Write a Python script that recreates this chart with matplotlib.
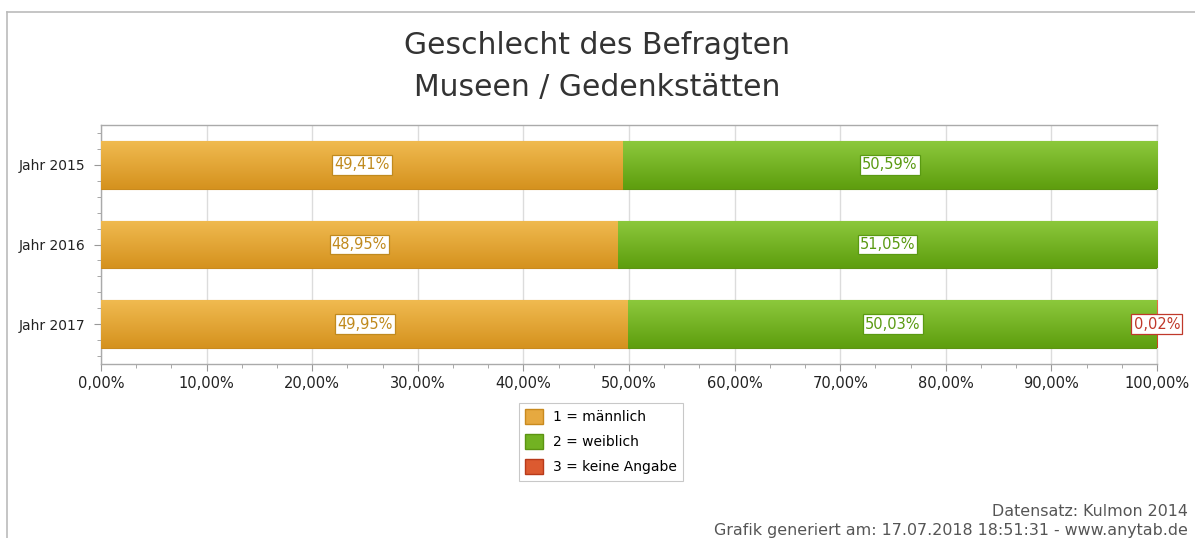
import matplotlib
matplotlib.use("Agg")
import matplotlib.pyplot as plt
import numpy as np
from matplotlib.colors import LinearSegmentedColormap
from matplotlib.lines import Line2D
from matplotlib.patches import Patch

# ---- data ----
categories = ["Jahr 2015", "Jahr 2016", "Jahr 2017"]
series_names = ["1 = männlich", "2 = weiblich", "3 = keine Angabe"]
maennlich = [49.41, 48.95, 49.95]
weiblich = [50.59, 51.05, 50.03]
keine_angabe = [0.0, 0.0, 0.02]
x_ticks = [0, 10, 20, 30, 40, 50, 60, 70, 80, 90, 100]
title_text = "Geschlecht des Befragten\nMuseen / Gedenkstätten"
footer1 = "Datensatz: Kulmon 2014"
footer2 = "Grafik generiert am: 17.07.2018 18:51:31 - www.anytab.de"

series = [maennlich, weiblich, keine_angabe]
top_cols = ["#F0BA50", "#8CC83C", "#EA7048"]
bot_cols = ["#D5921E", "#5E9E0E", "#C8401C"]
edge_cols = ["#C98A1E", "#5C9412", "#B83A1A"]
text_cols = ["#C08A1E", "#5A9A12", "#C0392B"]
leg_cols = ["#E6A940", "#72B222", "#DC5A30"]

plt.rcParams['font.family'] = ['DejaVu Sans']

fig = plt.figure(figsize=(11.95, 5.38), dpi=100)
ax = fig.add_axes([101/1195, 1-364/538, 1056/1195, 239/538])

y = np.arange(len(categories))
left = np.zeros(len(categories))
for si, vals in enumerate(series):
    vals = np.array(vals)
    bars = ax.barh(y, vals, left=left, height=0.6, color=bot_cols[si],
                   edgecolor=edge_cols[si], linewidth=0.8, zorder=3)
    cmap = LinearSegmentedColormap.from_list("g%d" % si, [top_cols[si], bot_cols[si]])
    for b, v in zip(bars, vals):
        if v <= 0:
            continue
        x0, y0 = b.get_x(), b.get_y()
        w, h = b.get_width(), b.get_height()
        grad = np.linspace(0, 1, 64).reshape(-1, 1)
        im = ax.imshow(grad, cmap=cmap, aspect='auto',
                       extent=[x0, x0 + w, y0 + h, y0], zorder=3.5,
                       interpolation='bicubic')
        im.set_clip_path(b)
    for yi, (l, v) in enumerate(zip(left, vals)):
        if v <= 0:
            continue
        ax.text(l + v / 2, yi, ("%.2f%%" % v).replace(".", ","),
                ha='center', va='center', fontsize=10.5, color=text_cols[si],
                zorder=6,
                bbox=dict(boxstyle='square,pad=0.15', facecolor='white',
                          edgecolor=text_cols[si], linewidth=0.9))
    left = left + vals

ax.set_xlim(0, 100)
ax.set_ylim(len(categories) - 0.5, -0.5)
ax.set_yticks(y)
ax.set_yticklabels(categories, fontsize=10, color="#222222")
ax.set_xticks(x_ticks)
ax.set_xticklabels([("%.2f%%" % t).replace(".", ",") for t in x_ticks],
                   fontsize=10.5, color="#222222")
ax.set_xticks(np.arange(0, 100.01, 10/3), minor=True)
ax.set_yticks(np.arange(-0.4, 2.5, 0.2), minor=True)
ax.grid(axis='x', which='major', color="#DCDCDC", linewidth=1.0, zorder=0)
ax.set_axisbelow(True)
for s in ax.spines.values():
    s.set_color("#AAAAAA")
    s.set_linewidth(1.0)
ax.spines['right'].set_color("#DCDCDC")
ax.tick_params(axis='both', which='major', length=5, color="#999999", pad=4)
ax.tick_params(axis='y', which='major', pad=6)
ax.tick_params(axis='both', which='minor', length=3, color="#999999")

fig.text(0.5, 1 - 66.5/538, title_text, ha='center', va='center',
         fontsize=21.5, color="#333333", linespacing=1.55)

handles = [Patch(facecolor=leg_cols[i], edgecolor=edge_cols[i], label=series_names[i])
           for i in range(3)]
leg = fig.legend(handles=handles, loc='upper left',
                 bbox_to_anchor=(519/1195, 1 - 403/538), fontsize=10,
                 frameon=True, fancybox=False, edgecolor="#BBBBBB",
                 handlelength=1.3, handleheight=1.3, labelspacing=0.7,
                 handletextpad=0.7, borderpad=0.45, borderaxespad=0)
leg.get_frame().set_linewidth(0.8)

fig.text(1188/1195, 1 - 511/538, footer1, ha='right', va='center',
         fontsize=11.4, color="#555555")
fig.text(1188/1195, 1 - 530/538, footer2, ha='right', va='center',
         fontsize=11.4, color="#555555")

# outer frame
fig.add_artist(Line2D([7/1195, 7/1195], [0, 1 - 12/538], transform=fig.transFigure,
                      color="#BBBBBB", linewidth=1.2))
fig.add_artist(Line2D([7/1195, 1.0], [1 - 12/538, 1 - 12/538], transform=fig.transFigure,
                      color="#BBBBBB", linewidth=1.2))

fig.savefig("out.png", dpi=100)
